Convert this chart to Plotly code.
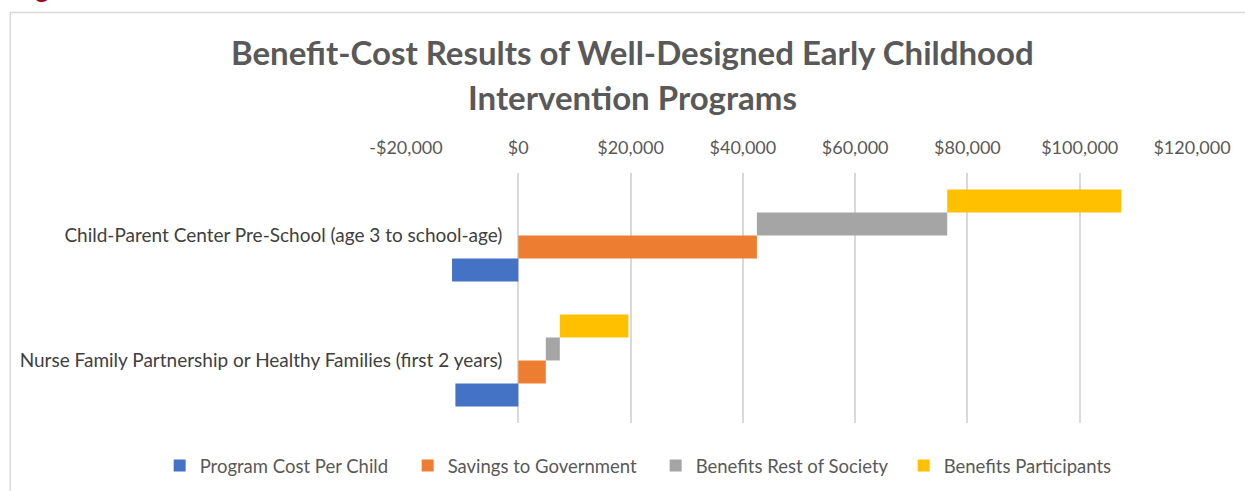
import plotly.graph_objects as go

categories = [
    "Child-Parent Center Pre-School (age 3 to school-age)",
    "Nurse Family Partnership or Healthy Families (first 2 years)",
]
program_cost = [-11800, -11200]
savings_gov = [42500, 4900]
benefits_society = [33900, 2500]
benefits_participants = [31000, 12200]

tick_vals = [-20000, 0, 20000, 40000, 60000, 80000, 100000, 120000]
tick_text = ["-$20,000", "$0", "$20,000", "$40,000", "$60,000", "$80,000", "$100,000", "$120,000"]

series_names = ["Program Cost Per Child", "Savings to Government",
                "Benefits Rest of Society", "Benefits Participants"]
colors = ["#4472C4", "#ED7D31", "#A5A5A5", "#FFC000"]

base_society = savings_gov
base_part = [s + r for s, r in zip(savings_gov, benefits_society)]
bases = [[0, 0], [0, 0], base_society, base_part]
values = [program_cost, savings_gov, benefits_society, benefits_participants]

FONT = "Lato"
W, H = 1245, 491
L, R, T, B = 405.5, 53, 173, 68
pw = W - L - R
ph = H - T - B

def px_x(p):
    return (p - L) / pw

def px_y(p):
    return (H - B - p) / ph

fig = go.Figure()
for name, col, base, val in zip(series_names, colors, bases, values):
    fig.add_trace(go.Bar(
        y=categories, x=val, base=base, name=name, orientation="h",
        marker=dict(color=col, line=dict(width=0)),
    ))

fig.update_layout(
    width=W, height=H,
    margin=dict(l=L, r=R, t=T, b=B, pad=0, autoexpand=False),
    paper_bgcolor="white", plot_bgcolor="white",
    barmode="group", bargap=0.264, bargroupgap=0,
    font=dict(family=FONT, color="#595959"),
    showlegend=True,
    legend=dict(orientation="h",
                x=px_x(159), xanchor="left",
                y=px_y(466), yanchor="middle",
                font=dict(size=18.5, color="#595959"),
                traceorder="normal", itemwidth=30,
                entrywidth=203, entrywidthmode="pixels"),
    xaxis=dict(range=[-20000, 120000], side="top",
               tickvals=tick_vals, ticktext=tick_text,
               showgrid=True, gridcolor="#D9D9D9", gridwidth=1.5,
               zeroline=False, showline=False,
               tickfont=dict(size=18, color="#595959"),
               ticklabelstandoff=14),
    yaxis=dict(categoryorder="array", categoryarray=categories[::-1],
               anchor="free", position=px_x(518),
               showgrid=False, zeroline=False, showline=False,
               tickfont=dict(size=19, color="#404040"),
               ticklabelstandoff=16),
    annotations=[
        dict(text="<b>Benefit-Cost Results of Well-Designed Early Childhood</b>",
             xref="paper", yref="paper", x=px_x(632), y=px_y(52),
             xanchor="center", yanchor="middle", showarrow=False,
             font=dict(size=33, color="#595959", family=FONT)),
        dict(text="<b>Intervention Programs</b>",
             xref="paper", yref="paper", x=px_x(632), y=px_y(97),
             xanchor="center", yanchor="middle", showarrow=False,
             font=dict(size=33, color="#595959", family=FONT)),
        dict(text="<b>Figure 1</b>",
             xref="paper", yref="paper", x=px_x(11), y=px_y(6),
             xanchor="left", yanchor="bottom", showarrow=False,
             font=dict(size=26, color="#A50021", family=FONT)),
    ],
    shapes=[
        dict(type="rect", xref="paper", yref="paper",
             x0=px_x(9.5), x1=px_x(1300), y0=px_y(12.5), y1=px_y(520),
             line=dict(color="#D9D9D9", width=1.5), fillcolor="rgba(0,0,0,0)",
             layer="below"),
    ],
)

fig.write_html("out.html")
